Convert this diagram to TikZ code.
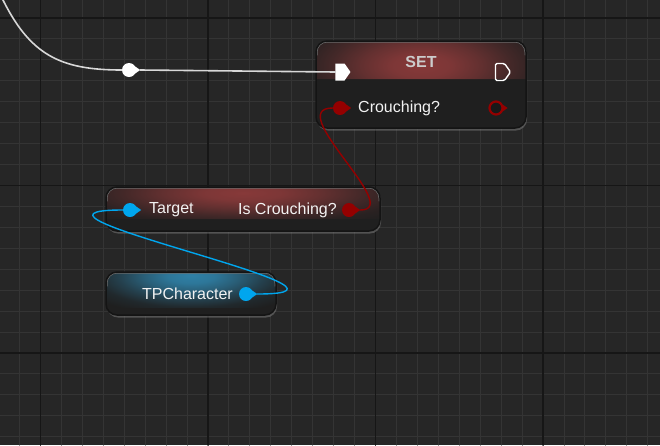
\documentclass[tikz,border=0pt]{standalone}
\usepackage{fontspec}
\setmainfont{Liberation Sans}
\usepackage{tikz}
\usetikzlibrary{shapes.symbols}
\usetikzlibrary{shadows}
\definecolor{bgcol}{HTML}{262626}
\definecolor{gridminor}{HTML}{343434}
\definecolor{gridmajor}{HTML}{161616}
\definecolor{nodebody}{HTML}{1F1F1F}
\definecolor{hdrred}{HTML}{873939}
\definecolor{hdrblue}{HTML}{2F80A6}
\definecolor{boolred}{HTML}{940000}
\definecolor{objblue}{HTML}{00A6EE}
\definecolor{pinwhite}{HTML}{F2F2F2}
\definecolor{wirewhite}{HTML}{D8D8D8}
\pgfdeclareradialshading{redglow}{\pgfpoint{0bp}{0bp}}{color(0bp)=(hdrred); color(5bp)=(hdrred!90!nodebody);
  color(10bp)=(hdrred!65!nodebody); color(15bp)=(hdrred!35!nodebody); color(20bp)=(hdrred!10!nodebody);
  color(25bp)=(nodebody); color(50bp)=(nodebody)}
\pgfdeclareradialshading{blueglow}{\pgfpoint{0bp}{0bp}}{color(0bp)=(hdrblue); color(5bp)=(hdrblue!90!nodebody);
  color(10bp)=(hdrblue!65!nodebody); color(15bp)=(hdrblue!35!nodebody); color(20bp)=(hdrblue!10!nodebody);
  color(25bp)=(nodebody); color(50bp)=(nodebody)}
\tikzset{
  bpbody/.style={draw=black!92, line width=1.5pt, rounded corners=11pt, fill=nodebody,
    inner sep=0pt, drop shadow={opacity=.5, shadow xshift=1pt, shadow yshift=-2.5pt}},
  header/.style n args={3}{path picture={\shade[shading=#1]
    ([shift={(-#2pt,#3pt)}]path picture bounding box.north) rectangle ([shift={(#2pt,-#3pt)}]path picture bounding box.north);
    \draw[white!42!black, line width=1pt, rounded corners=10pt]
      ([xshift=1pt,yshift=-14pt]path picture bounding box.north west) |- ([yshift=-1pt]path picture bounding box.north)
      -| ([xshift=-1pt,yshift=-14pt]path picture bounding box.north east);}},
  pintext/.style={text=pinwhite, font=\fontsize{16}{19}\selectfont, inner sep=0pt},
  boolpin/.style={circle, fill=boolred, inner sep=0pt, minimum size=14pt},
  objpin/.style={circle, fill=objblue, inner sep=0pt, minimum size=14pt},
  execin/.style={signal, signal to=east, signal pointer angle=110, fill=white, inner sep=0pt,
    minimum width=15pt, minimum height=17pt},
  execout/.style={execin, fill=none, draw=white, line width=1.4pt, rounded corners=1.5pt},
  knot/.style={circle, fill=white, inner sep=0pt, minimum size=14pt},
}
\newcommand{\pinnub}[2]{\fill[#2] ([xshift=-1pt]#1.east) -- ++(0,-3.5) -- ++(5,3.5) -- ++(-5,3.5) -- cycle;}

\begin{document}
\begin{tikzpicture}[x=1pt,y=-1pt,line cap=round,line join=round]
  \useasboundingbox (0,0) rectangle (660,445);
  \fill[bgcol] (0,0) rectangle (660,445);
  % grid
  \foreach \i in {-2,...,30}
    \draw[gridminor, line width=1pt] ({40.5+20.94*\i},0) -- ++(0,445);
  \foreach \i in {-1,...,21}
    \draw[gridminor, line width=1pt] (0,{18+20.94*\i}) -- ++(660,0);
  \foreach \i in {0,...,3}
    \draw[gridmajor, line width=1.5pt] ({40.5+167.5*\i},0) -- ++(0,445);
  \foreach \i in {0,...,2}
    \draw[gridmajor, line width=1.5pt] (0,{18+167.5*\i}) -- ++(660,0);

  % node bodies
  \node[bpbody, header={redglow}{150}{38}, minimum width=210pt, minimum height=87pt] (setnode) at (421,84.5) {};
  \node[bpbody, header={redglow}{200}{32}, minimum width=274pt, minimum height=44pt] (getnode) at (243,209) {};
  \node[bpbody, header={blueglow}{120}{36}, minimum width=170pt, minimum height=43pt] (tpnode) at (191,293.5) {};

  % SET node
  \node[text=white!80!black, font=\bfseries\fontsize{16}{19}\selectfont] (settitle) at (421,62) {SET};
  \node[execin] (setexecin) at (340,72) {};
  \node[execout] (setexecout) at (500,72) {};
  \node[boolpin] (setcrouchin) at (340,108) {};
  \pinnub{setcrouchin}{boolred}
  \node[pintext, anchor=west] (setcrouchlbl) at (358,108) {Crouching?};
  \node[circle, draw=boolred, fill=black!90, line width=2.2pt, inner sep=0pt, minimum size=13pt] (setcrouchout) at (496,108) {};
  \pinnub{setcrouchout}{boolred}

  % Is Crouching? getter
  \node[objpin] (targetpin) at (130,210) {};
  \pinnub{targetpin}{objblue}
  \node[pintext, anchor=west] (targetlbl) at (149,210) {Target};
  \node[boolpin] (iscrouchpin) at (349,210) {};
  \pinnub{iscrouchpin}{boolred}
  \node[pintext, anchor=east] (iscrouchlbl) at (337,210) {Is Crouching?};

  % TPCharacter
  \node[objpin] (tppin) at (246,294) {};
  \pinnub{tppin}{objblue}
  \node[pintext, anchor=east] (tplbl) at (233,294) {TPCharacter};

  % reroute knot
  \node[knot] (knot) at (129,70) {};
  \pinnub{knot}{white}
  \coordinate (execsrc) at (2,-2);

  % wires
  \draw[wirewhite, line width=1.6pt] (execsrc) .. controls (30,55) and (60,70) .. (knot.west);
  \draw[wirewhite, line width=1.6pt] ([xshift=4pt]knot.east) -- (setexecin.west);
  \draw[boolred, line width=1.4pt] ([xshift=4pt]iscrouchpin.east) .. controls (405,210) and (282,108) .. (setcrouchin.west);
  \draw[objblue, line width=1.4pt] ([xshift=4pt]tppin.east) .. controls (400,294) and (-20,210) .. (targetpin.west);
\end{tikzpicture}
\end{document}
